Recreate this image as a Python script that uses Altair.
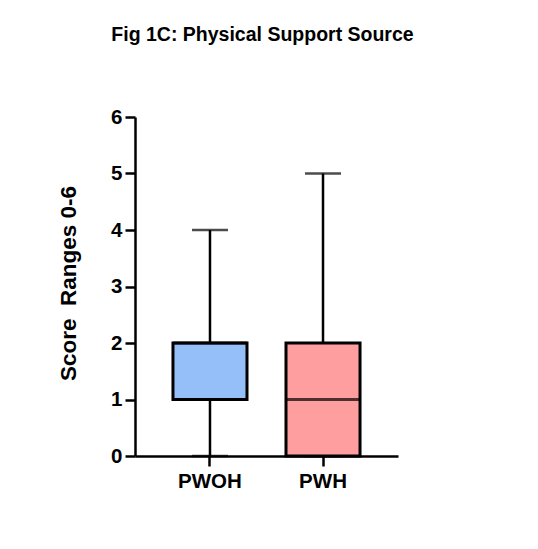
import altair as alt
import pandas as pd

groups = ["PWOH", "PWH"]
mins = [0, 0]
q1s = [1, 0]
medians = [2, 1]
q3s = [2, 2]
maxs = [4, 5]
fills = ["#94BFF8", "#FF9E9E"]
y_ticks = [0, 1, 2, 3, 4, 5, 6]

df = pd.DataFrame({
    "group": groups,
    "min": mins,
    "q1": q1s,
    "median": medians,
    "q3": q3s,
    "max": maxs,
})

FONT = "Liberation Sans"

x = alt.X(
    "group:N",
    sort=groups,
    scale=alt.Scale(paddingInner=0.345, paddingOuter=0.336),
    axis=alt.Axis(
        title=None,
        labelAngle=0,
        labelFont=FONT,
        labelFontWeight="bold",
        labelFontSize=20.5,
        labelColor="black",
        labelPadding=5,
        tickSize=10,
        tickWidth=2.5,
        tickColor="black",
        domainColor="black",
        domainWidth=2.5,
    ),
)

yscale = alt.Scale(domain=[0, 6], nice=False, zero=True)
yaxis = alt.Axis(
    title="Score\u00a0 Ranges 0-6",
    values=y_ticks,
    format="d",
    labelFont=FONT,
    labelFontWeight="bold",
    labelFontSize=20.5,
    labelColor="black",
    labelPadding=3,
    tickSize=10,
    tickWidth=2.5,
    tickColor="black",
    domainColor="black",
    domainWidth=2.5,
    titleFont=FONT,
    titleFontWeight="bold",
    titleFontSize=22.5,
    titleColor="black",
    titleAngle=-90,
    titleAlign="center",
    titleBaseline="alphabetic",
    titleX=-60,
    titleY=166,
)

base = alt.Chart(df)

lower = base.mark_rule(color="black", strokeWidth=2.5).encode(
    x=x, y=alt.Y("min:Q", scale=yscale, axis=yaxis), y2="q1:Q"
)
upper = base.mark_rule(color="black", strokeWidth=2.5).encode(
    x=x, y=alt.Y("q3:Q", scale=yscale), y2="max:Q"
)
cap_lo = base.mark_tick(color="black", size=36, thickness=2.5).encode(
    x=x, y=alt.Y("min:Q", scale=yscale)
)
cap_hi = base.mark_tick(color="black", size=36, thickness=2.5).encode(
    x=x, y=alt.Y("max:Q", scale=yscale)
)
box = base.mark_bar(stroke="black", strokeWidth=3).encode(
    x=x,
    y=alt.Y("q1:Q", scale=yscale),
    y2="q3:Q",
    fill=alt.Fill("group:N", scale=alt.Scale(domain=groups, range=fills), legend=None),
)
med = base.mark_tick(color="black", size=74, thickness=3).encode(
    x=x, y=alt.Y("median:Q", scale=yscale)
)

chart = alt.layer(lower, upper, cap_lo, cap_hi, box, med).properties(
    width=263,
    height=339,
    title=alt.TitleParams(
        "Fig 1C: Physical Support Source",
        font=FONT,
        fontWeight="bold",
        fontSize=19.5,
        color="black",
        anchor="middle",
        offset=62,
        dx=-4,
    ),
    autosize=alt.AutoSizeParams(type="none"),
    padding={"left": 127, "top": 109, "right": 132, "bottom": 85},
).configure_view(stroke=None).configure_axis(grid=False)

chart.save("out.html", embed_options={"renderer": "svg", "actions": False})
